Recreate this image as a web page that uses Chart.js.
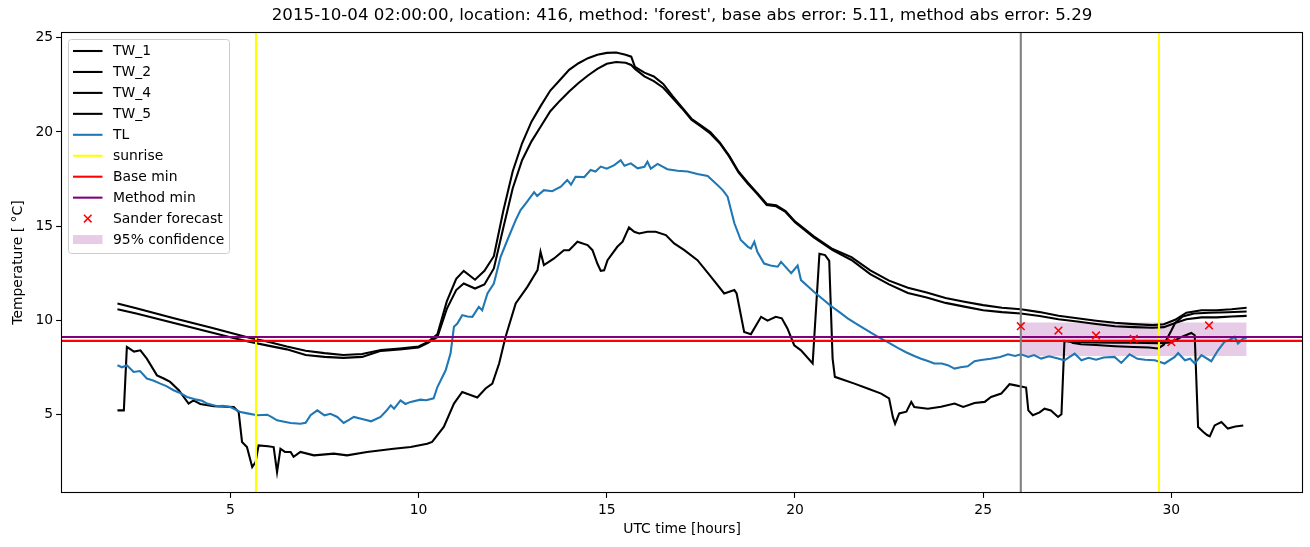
<!DOCTYPE html>
<html><head><meta charset="utf-8">
<script src="https://cdn.jsdelivr.net/npm/chart.js@4"></script>
<style>html,body{margin:0;padding:0;background:#fff;overflow:hidden}#wrap{width:1310px;height:547px}</style>
</head><body><div id="wrap"><canvas id="c" width="1310" height="547"></canvas></div>
<script>
const titleText = "2015-10-04 02:00:00, location: 416, method: 'forest', base abs error: 5.11, method abs error: 5.29";
const xLimits = [0.5, 33.5];
const yLimits = [0.82, 25.31];
const xTicks = [5, 10, 15, 20, 25, 30];
const yTicks = [5, 10, 15, 20, 25];

const tw1 = [[2,10.89],[2.5,10.63],[3,10.37],[3.5,10.1],[4,9.85],[4.5,9.6],[5,9.33],[5.5,9.07],[6,8.85],[6.5,8.6],[7,8.38],[7.5,8.25],[8,8.15],[8.5,8.2],[9,8.42],[9.5,8.5],[10,8.6],[10.25,8.85],[10.5,9.25],[10.75,11.0],[11,12.2],[11.2,12.62],[11.5,12.15],[11.75,12.62],[12,13.4],[12.25,15.8],[12.5,17.9],[12.75,19.4],[13,20.55],[13.25,21.4],[13.5,22.2],[13.75,22.75],[14,23.3],[14.25,23.65],[14.5,23.92],[14.75,24.1],[15,24.2],[15.25,24.22],[15.5,24.1],[15.65,24.0],[15.75,23.45],[16,23.15],[16.25,22.95],[16.5,22.55],[16.75,21.9],[17,21.3],[17.25,20.7],[17.5,20.35],[17.75,20.0],[18,19.45],[18.25,18.75],[18.5,17.9],[18.75,17.3],[19,16.75],[19.25,16.17],[19.5,16.1],[19.75,15.8],[20,15.25],[20.5,14.45],[21,13.78],[21.5,13.35],[22,12.65],[22.5,12.1],[23,11.72],[23.5,11.47],[24,11.18],[24.5,10.98],[25,10.8],[25.5,10.66],[26,10.58],[26.5,10.43],[27,10.24],[27.5,10.1],[28,9.97],[28.5,9.86],[29,9.79],[29.5,9.74],[29.8,9.78],[30.1,10.02],[30.4,10.4],[30.8,10.53],[31.2,10.53],[31.6,10.58],[32,10.66]];
const tw2 = [[2,10.58],[2.5,10.35],[3,10.1],[3.5,9.85],[4,9.6],[4.5,9.35],[5,9.1],[5.5,8.85],[6,8.65],[6.5,8.45],[7,8.15],[7.5,8.05],[8,8.0],[8.5,8.05],[9,8.37],[9.5,8.45],[10,8.55],[10.25,8.8],[10.5,9.1],[10.75,10.6],[11,11.6],[11.2,11.95],[11.5,11.68],[11.75,11.9],[12,12.75],[12.25,14.9],[12.5,17.0],[12.75,18.5],[13,19.5],[13.25,20.3],[13.5,21.1],[13.75,21.65],[14,22.15],[14.25,22.6],[14.5,23.0],[14.75,23.35],[15,23.62],[15.25,23.72],[15.5,23.68],[15.65,23.56],[15.75,23.35],[16,22.95],[16.25,22.7],[16.5,22.35],[16.75,21.8],[17,21.25],[17.25,20.65],[17.5,20.3],[17.75,19.92],[18,19.4],[18.25,18.7],[18.5,17.85],[18.75,17.25],[19,16.7],[19.25,16.12],[19.5,16.05],[19.75,15.75],[20,15.2],[20.5,14.4],[21,13.72],[21.5,13.2],[22,12.45],[22.5,11.9],[23,11.45],[23.5,11.2],[24,10.92],[24.5,10.72],[25,10.53],[25.5,10.43],[26,10.36],[26.5,10.22],[27,10.05],[27.5,9.93],[28,9.8],[28.5,9.68],[29,9.63],[29.5,9.6],[29.8,9.63],[30.1,9.85],[30.4,10.05],[30.8,10.15],[31.2,10.15],[31.6,10.2],[32,10.23]];
const tw4 = [[27.35,8.8],[27.6,8.72],[28,8.68],[28.5,8.62],[29,8.58],[29.4,8.55],[29.65,8.5],[29.8,8.7],[30.0,9.45],[30.1,9.85],[30.3,10.2],[30.6,10.36],[31.0,10.4],[31.5,10.42],[32,10.46]];
const tw5 = [[2.0,5.21],[2.17,5.21],[2.25,8.58],[2.35,8.45],[2.44,8.33],[2.61,8.4],[2.78,7.96],[3.05,7.07],[3.23,6.9],[3.4,6.72],[3.63,6.28],[3.89,5.57],[4.02,5.74],[4.2,5.55],[4.56,5.43],[5.09,5.39],[5.22,5.12],[5.31,3.53],[5.44,3.26],[5.58,2.2],[5.67,2.46],[5.75,3.35],[6.0,3.3],[6.15,3.26],[6.24,1.93],[6.33,3.17],[6.45,3.0],[6.6,3.0],[6.68,2.74],[6.86,3.0],[7.22,2.82],[7.75,2.91],[8.1,2.82],[8.63,3.0],[9.34,3.17],[9.79,3.26],[10.23,3.44],[10.36,3.53],[10.67,4.33],[10.94,5.57],[11.16,6.19],[11.56,5.89],[11.78,6.37],[11.96,6.63],[12.14,7.7],[12.31,9.11],[12.58,10.89],[12.89,11.77],[13.16,12.66],[13.24,13.63],[13.33,12.93],[13.6,13.28],[13.86,13.72],[14.0,13.72],[14.22,14.17],[14.49,13.99],[14.62,13.72],[14.75,13.01],[14.84,12.62],[14.93,12.65],[15.02,13.19],[15.28,13.9],[15.42,14.17],[15.59,14.93],[15.73,14.7],[15.86,14.61],[16.08,14.7],[16.3,14.7],[16.57,14.52],[16.79,14.08],[17.06,13.72],[17.41,13.19],[17.77,12.3],[18.12,11.42],[18.39,11.6],[18.45,11.42],[18.65,9.38],[18.83,9.26],[19.1,10.18],[19.27,9.98],[19.49,10.18],[19.65,10.1],[19.8,9.56],[19.98,8.67],[20.16,8.4],[20.47,7.7],[20.65,13.53],[20.8,13.46],[20.91,13.15],[21.0,7.96],[21.06,6.99],[21.58,6.63],[21.93,6.37],[22.29,6.1],[22.5,5.85],[22.6,4.86],[22.66,4.5],[22.77,5.05],[22.96,5.14],[23.09,5.66],[23.17,5.39],[23.53,5.3],[23.88,5.4],[24.24,5.57],[24.47,5.39],[24.77,5.6],[25.04,5.66],[25.21,5.92],[25.48,6.1],[25.7,6.6],[25.83,6.55],[26.14,6.42],[26.2,5.21],[26.32,4.95],[26.5,5.1],[26.63,5.3],[26.8,5.2],[26.99,4.86],[27.08,5.0],[27.16,8.9],[27.34,8.85],[27.6,8.84],[28.0,8.82],[28.5,8.8],[29.0,8.8],[29.65,8.78],[30.0,8.82],[30.27,9.11],[30.53,9.32],[30.62,9.2],[30.71,4.33],[30.85,4.06],[30.95,3.9],[31.02,3.83],[31.15,4.41],[31.33,4.59],[31.5,4.24],[31.7,4.35],[31.91,4.41]];
const tl = [[2.0,7.61],[2.12,7.5],[2.25,7.61],[2.43,7.25],[2.6,7.3],[2.78,6.9],[2.95,6.8],[3.14,6.63],[3.3,6.5],[3.49,6.28],[3.65,6.15],[3.85,5.92],[4.1,5.78],[4.25,5.72],[4.38,5.57],[4.65,5.43],[4.8,5.45],[5.0,5.39],[5.27,5.12],[5.45,5.05],[5.71,4.95],[5.98,4.98],[6.1,4.85],[6.24,4.68],[6.4,4.62],[6.6,4.54],[6.86,4.5],[7.0,4.55],[7.13,4.95],[7.31,5.21],[7.5,4.95],[7.66,5.03],[7.84,4.86],[8.01,4.54],[8.15,4.7],[8.28,4.86],[8.5,4.75],[8.74,4.63],[8.99,4.86],[9.15,5.2],[9.26,5.48],[9.35,5.3],[9.52,5.74],[9.65,5.55],[9.79,5.66],[10.05,5.78],[10.2,5.75],[10.4,5.85],[10.5,6.45],[10.72,7.34],[10.85,8.24],[10.94,9.65],[11.03,9.82],[11.16,10.27],[11.3,10.2],[11.43,10.18],[11.6,10.71],[11.69,10.53],[11.83,11.42],[12.0,11.95],[12.18,13.37],[12.36,14.26],[12.58,15.32],[12.71,15.85],[12.85,16.2],[13.07,16.8],[13.15,16.6],[13.33,16.91],[13.55,16.85],[13.78,17.09],[13.95,17.45],[14.05,17.2],[14.17,17.62],[14.4,17.6],[14.57,17.98],[14.7,17.9],[14.84,18.16],[15.0,18.05],[15.2,18.24],[15.37,18.5],[15.47,18.2],[15.64,18.33],[15.82,18.07],[16.0,18.15],[16.08,18.42],[16.17,18.05],[16.35,18.3],[16.61,18.02],[16.88,17.94],[17.15,17.9],[17.41,17.77],[17.68,17.66],[17.94,17.18],[18.08,16.91],[18.21,16.56],[18.39,15.15],[18.56,14.26],[18.75,13.9],[18.83,13.81],[18.92,14.17],[19.0,13.63],[19.18,13.01],[19.35,12.9],[19.54,12.84],[19.63,13.1],[19.9,12.5],[20.07,12.9],[20.16,12.13],[20.51,11.5],[20.75,11.1],[20.96,10.75],[21.2,10.4],[21.4,10.1],[21.6,9.85],[21.84,9.55],[22.05,9.3],[22.29,9.02],[22.5,8.8],[22.73,8.53],[22.95,8.3],[23.17,8.1],[23.35,7.95],[23.53,7.83],[23.7,7.7],[23.9,7.7],[24.06,7.61],[24.24,7.43],[24.4,7.5],[24.59,7.55],[24.77,7.82],[24.95,7.89],[25.2,7.95],[25.45,8.05],[25.66,8.19],[25.85,8.1],[26.0,8.19],[26.2,8.05],[26.35,8.15],[26.54,7.96],[26.75,8.08],[26.99,7.96],[27.16,7.87],[27.43,8.23],[27.61,7.87],[27.8,8.0],[28.0,7.9],[28.2,8.02],[28.49,8.05],[28.67,7.73],[28.89,8.19],[29.1,7.95],[29.3,7.9],[29.56,7.87],[29.82,7.7],[30.09,8.05],[30.18,8.26],[30.36,7.87],[30.5,7.95],[30.62,7.7],[30.8,8.14],[31.06,7.82],[31.24,8.4],[31.41,8.85],[31.55,8.95],[31.68,9.12],[31.77,8.76],[31.91,9.03],[32.0,9.05]];

const sunriseHours = [5.68, 29.67];
const nowHour = 26.0;
const baseMin = 8.9;
const methodMin = 9.11;
const forecastHours = [26, 27, 28, 29, 30, 31];
const forecastValues = [9.68, 9.45, 9.19, 9.01, 8.83, 9.72];
const confHours = [26, 32];
const confLow = 8.1;
const confHigh = 9.88;

const FONT = 'DejaVu Sans';
const LW = 2.08;
const pts = a => a.map(p => ({x: p[0], y: p[1]}));
const lineDs = (label, data, color, order, extra) => Object.assign({
  label, data, borderColor: color, backgroundColor: color, borderWidth: LW,
  pointRadius: 0, showLine: true, fill: false, tension: 0, order
}, extra || {});

const datasets = [
  lineDs('conf_low', confHours.map(h => ({x: h, y: confLow})), 'rgba(0,0,0,0)', 100, {borderWidth: 0}),
  lineDs('95% confidence', confHours.map(h => ({x: h, y: confHigh})), 'rgba(0,0,0,0)', 99,
    {borderWidth: 0, fill: '-1', backgroundColor: 'rgba(128,0,128,0.2)'}),
  lineDs('TW_1', pts(tw1), '#000000', 60),
  lineDs('TW_2', pts(tw2), '#000000', 59),
  lineDs('TW_4', pts(tw4), '#000000', 58),
  lineDs('TW_5', pts(tw5), '#000000', 57),
  lineDs('TL', pts(tl), '#1f77b4', 50),
  lineDs('sunrise', [{x: sunriseHours[0], y: yLimits[0]}, {x: sunriseHours[0], y: yLimits[1]}], '#ffff00', 40),
  lineDs('sunrise2', [{x: sunriseHours[1], y: yLimits[0]}, {x: sunriseHours[1], y: yLimits[1]}], '#ffff00', 40),
  lineDs('Base min', [{x: xLimits[0], y: baseMin}, {x: xLimits[1], y: baseMin}], '#ff0000', 35),
  lineDs('Method min', [{x: xLimits[0], y: methodMin}, {x: xLimits[1], y: methodMin}], '#800080', 34),
  lineDs('now', [{x: nowHour, y: yLimits[0]}, {x: nowHour, y: yLimits[1]}], '#808080', 30),
  {label: 'Sander forecast', data: forecastHours.map((h, i) => ({x: h, y: forecastValues[i]})),
   showLine: false, pointStyle: 'crossRot', pointRadius: 5.4, pointBorderWidth: 1.5,
   borderColor: '#ff0000', backgroundColor: '#ff0000', order: 10}
];

const legendItems = [
  {label: 'TW_1', kind: 'line', color: '#000000'},
  {label: 'TW_2', kind: 'line', color: '#000000'},
  {label: 'TW_4', kind: 'line', color: '#000000'},
  {label: 'TW_5', kind: 'line', color: '#000000'},
  {label: 'TL', kind: 'line', color: '#1f77b4'},
  {label: 'sunrise', kind: 'line', color: '#ffff00'},
  {label: 'Base min', kind: 'line', color: '#ff0000'},
  {label: 'Method min', kind: 'line', color: '#800080'},
  {label: 'Sander forecast', kind: 'marker', color: '#ff0000'},
  {label: '95% confidence', kind: 'patch', color: 'rgba(128,0,128,0.2)'}
];

const framePlugin = {
  id: 'frame',
  afterDatasetsDraw(chart) {
    const {ctx, chartArea: a} = chart;
    ctx.save();
    ctx.strokeStyle = '#000'; ctx.lineWidth = 1.1;
    ctx.strokeRect(Math.round(a.left) + 0.5, Math.round(a.top) + 0.5,
      Math.round(a.right - a.left) - 1, Math.round(a.bottom - a.top) - 1);
    ctx.restore();
  },
  afterDraw(chart) {
    const ctx = chart.ctx;
    const a = chart.chartArea;
    const bx = a.left + 7.5, by = a.top + 7.5, bw = 161, bh = 214, r = 3;
    ctx.save();
    ctx.beginPath();
    ctx.moveTo(bx + r, by); ctx.lineTo(bx + bw - r, by); ctx.arcTo(bx + bw, by, bx + bw, by + r, r);
    ctx.lineTo(bx + bw, by + bh - r); ctx.arcTo(bx + bw, by + bh, bx + bw - r, by + bh, r);
    ctx.lineTo(bx + r, by + bh); ctx.arcTo(bx, by + bh, bx, by + bh - r, r);
    ctx.lineTo(bx, by + r); ctx.arcTo(bx, by, bx + r, by, r); ctx.closePath();
    ctx.fillStyle = 'rgba(255,255,255,0.8)'; ctx.fill();
    ctx.strokeStyle = '#cccccc'; ctx.lineWidth = 1; ctx.stroke();
    ctx.font = '13.9px "' + FONT + '"';
    ctx.textBaseline = 'middle'; ctx.textAlign = 'left';
    const x0 = bx + 4.5, x1 = bx + 34, tx = bx + 44.5;
    legendItems.forEach((it, i) => {
      const y = by + 11.5 + i * 20.95;
      if (it.kind === 'line') {
        ctx.strokeStyle = it.color; ctx.lineWidth = LW;
        ctx.beginPath(); ctx.moveTo(x0, y); ctx.lineTo(x1, y); ctx.stroke();
      } else if (it.kind === 'marker') {
        const cx = (x0 + x1) / 2, d = 3.8;
        ctx.strokeStyle = it.color; ctx.lineWidth = 1.5;
        ctx.beginPath(); ctx.moveTo(cx - d, y - d); ctx.lineTo(cx + d, y + d);
        ctx.moveTo(cx - d, y + d); ctx.lineTo(cx + d, y - d); ctx.stroke();
      } else {
        ctx.fillStyle = it.color; ctx.fillRect(x0, y - 4.5, x1 - x0, 9);
      }
      ctx.fillStyle = '#000';
      ctx.fillText(it.label, tx, y + 0.5);
    });
    ctx.restore();
  }
};

new Chart(document.getElementById('c'), {
  type: 'scatter',
  data: {datasets},
  options: {
    responsive: false, animation: false, devicePixelRatio: 1,
    layout: {padding: {left: 0, right: 6, top: 0, bottom: 0}},
    plugins: {
      legend: {display: false},
      tooltip: {enabled: false},
      title: {display: true, text: titleText, fullSize: false, color: '#000',
        font: {family: FONT, size: 16.67, weight: 'normal'}, padding: {top: 6, bottom: 6}}
    },
    scales: {
      x: {
        type: 'linear', min: xLimits[0], max: xLimits[1],
        afterBuildTicks: s => { s.ticks = xTicks.map(v => ({value: v})); },
        afterFit: s => { s.height = 54; },
        ticks: {color: '#000', font: {family: FONT, size: 13.9}, padding: 4, maxRotation: 0, autoSkip: false},
        grid: {display: true, drawOnChartArea: false, drawTicks: true, tickLength: 4.9, tickWidth: 1.1, color: '#000'},
        border: {display: false},
        title: {display: true, text: 'UTC time [hours]', color: '#000', font: {family: FONT, size: 13.9}, padding: {top: 0, bottom: 9}}
      },
      y: {
        type: 'linear', min: yLimits[0], max: yLimits[1],
        afterBuildTicks: s => { s.ticks = yTicks.map(v => ({value: v})); },
        afterFit: s => { s.width = 61; },
        ticks: {color: '#000', font: {family: FONT, size: 13.9}, padding: 3},
        grid: {display: true, drawOnChartArea: false, drawTicks: true, tickLength: 4.9, tickWidth: 1.1, color: '#000'},
        border: {display: false},
        title: {display: true, text: 'Temperature [ °C]', color: '#000', font: {family: FONT, size: 13.9}, padding: {top: 10, bottom: 0}}
      }
    }
  },
  plugins: [framePlugin]
});
</script>
</body></html>
